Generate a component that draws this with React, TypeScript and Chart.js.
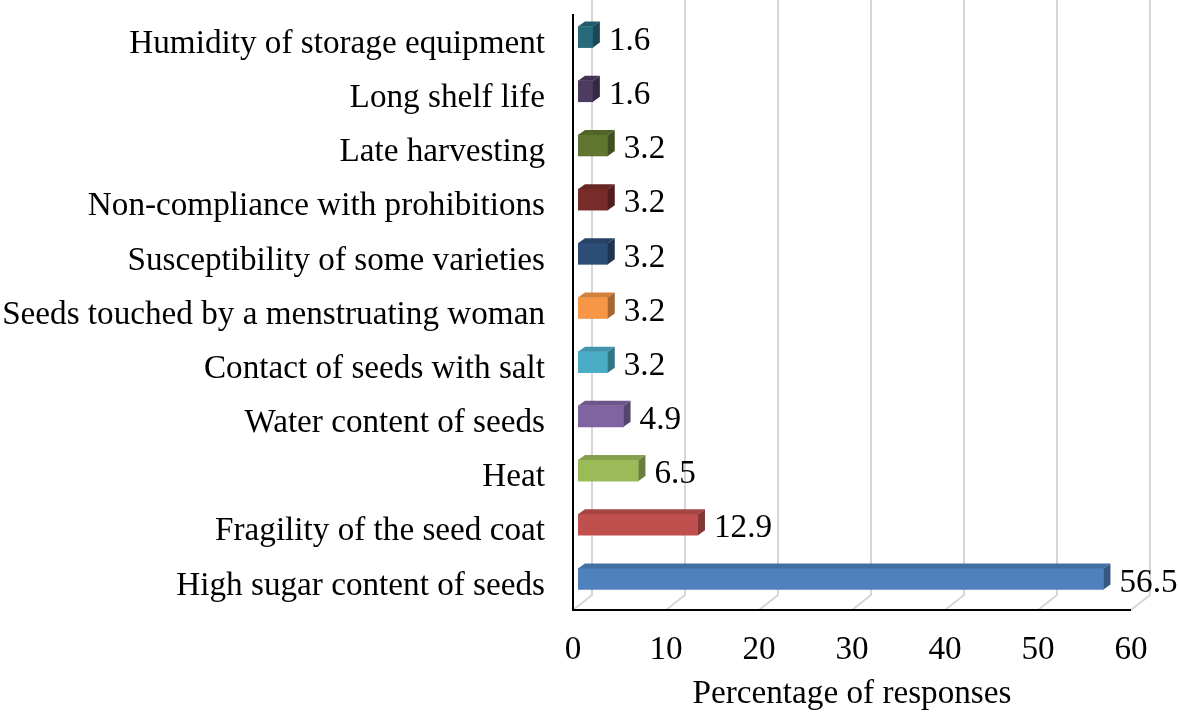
import React, { useEffect, useRef } from "react";
import { Chart, registerables } from "chart.js";

Chart.register(...registerables);

const categories: string[] = [
  "Humidity of storage equipment",
  "Long shelf life",
  "Late harvesting",
  "Non-compliance with prohibitions",
  "Susceptibility of some varieties",
  "Seeds touched by a menstruating woman",
  "Contact of seeds with salt",
  "Water content of seeds",
  "Heat",
  "Fragility of the seed coat",
  "High sugar content of seeds",
];

const values: number[] = [1.6, 1.6, 3.2, 3.2, 3.2, 3.2, 3.2, 4.9, 6.5, 12.9, 56.5];

const barColors: string[] = [
  "#276A7C",
  "#4D3B62",
  "#5F7530",
  "#772C2A",
  "#2C4D75",
  "#F79646",
  "#4BACC6",
  "#8064A2",
  "#9BBB59",
  "#C0504D",
  "#4F81BD",
];

const xTickValues: number[] = [0, 10, 20, 30, 40, 50, 60];
const axisTitle = "Percentage of responses";

const FONT_FAMILY = '"Liberation Serif", "Times New Roman", serif';
const FONT_SIZE = 33.2;

// 3D geometry (pixels)
const WALL_DX = 19;
const WALL_DY = -15;
const BAR_DX = 5;
const BAR_DY = -4;
const DEPTH_DX = 7;
const DEPTH_DY = -5;

function shade(hex: string, f: number): string {
  const n = parseInt(hex.slice(1), 16);
  const r = Math.round(((n >> 16) & 255) * f);
  const g = Math.round(((n >> 8) & 255) * f);
  const b = Math.round((n & 255) * f);
  return `rgb(${r},${g},${b})`;
}

const threeDPlugin = {
  id: "threeD",
  beforeDatasetsDraw(chart: any) {
    const { ctx, chartArea } = chart;
    const xs = chart.scales.x;
    ctx.save();
    ctx.strokeStyle = "#d6d6d6";
    ctx.lineWidth = 2;
    xTickValues.forEach((v) => {
      const px = xs.getPixelForValue(v);
      ctx.beginPath();
      ctx.moveTo(px, chartArea.bottom);
      ctx.lineTo(px + WALL_DX, chartArea.bottom + WALL_DY);
      ctx.lineTo(px + WALL_DX, chartArea.top + WALL_DY);
      ctx.stroke();
    });
    ctx.restore();
    ctx.save();
    ctx.translate(BAR_DX, BAR_DY);
  },
  afterDatasetsDraw(chart: any) {
    const { ctx, chartArea } = chart;
    const meta = chart.getDatasetMeta(0);
    meta.data.forEach((bar: any, i: number) => {
      const { x, y, base, height } = bar.getProps(["x", "y", "base", "height"], true);
      const top = y - height / 2;
      const bot = y + height / 2;
      const c = barColors[i];
      ctx.fillStyle = shade(c, 0.86);
      ctx.beginPath();
      ctx.moveTo(base, top);
      ctx.lineTo(x, top);
      ctx.lineTo(x + DEPTH_DX, top + DEPTH_DY);
      ctx.lineTo(base + DEPTH_DX, top + DEPTH_DY);
      ctx.closePath();
      ctx.fill();
      ctx.fillStyle = shade(c, 0.68);
      ctx.beginPath();
      ctx.moveTo(x, top);
      ctx.lineTo(x + DEPTH_DX, top + DEPTH_DY);
      ctx.lineTo(x + DEPTH_DX, bot + DEPTH_DY);
      ctx.lineTo(x, bot);
      ctx.closePath();
      ctx.fill();
    });
    ctx.restore();

    ctx.save();
    ctx.font = `${FONT_SIZE}px ${FONT_FAMILY}`;
    ctx.fillStyle = "#000";
    ctx.textAlign = "left";
    ctx.textBaseline = "middle";
    meta.data.forEach((bar: any, i: number) => {
      ctx.fillText(values[i].toFixed(1), bar.x + 21, bar.y);
    });
    ctx.strokeStyle = "#000";
    ctx.lineWidth = 2;
    ctx.beginPath();
    ctx.moveTo(chartArea.left, chartArea.top);
    ctx.lineTo(chartArea.left, chartArea.bottom);
    ctx.lineTo(chartArea.right, chartArea.bottom);
    ctx.stroke();
    ctx.restore();
  },
};

export default function App() {
  const ref = useRef<HTMLCanvasElement | null>(null);

  useEffect(() => {
    if (!ref.current) return;
    const chart = new Chart(ref.current, {
      type: "bar",
      data: {
        labels: categories,
        datasets: [
          {
            data: values,
            backgroundColor: barColors,
            borderWidth: 0,
            barThickness: 21,
          },
        ],
      },
      options: {
        indexAxis: "y",
        animation: false,
        responsive: false,
        devicePixelRatio: 1,
        layout: { padding: { top: 14, right: 47, left: 0, bottom: 0 } },
        plugins: {
          legend: { display: false },
          tooltip: { enabled: false },
        },
        scales: {
          x: {
            min: 0,
            max: 60,
            grid: { display: false, drawTicks: false },
            border: { display: false },
            ticks: {
              stepSize: 10,
              padding: 20,
              color: "#000",
              font: { family: FONT_FAMILY, size: FONT_SIZE },
              maxRotation: 0,
            },
            title: {
              display: true,
              text: axisTitle,
              color: "#000",
              font: { family: FONT_FAMILY, size: FONT_SIZE },
              padding: { top: 0, bottom: 0 },
            },
            afterFit: (s: any) => {
              s.height = 104;
              s.paddingLeft = 0;
              s.paddingRight = 0;
            },
          },
          y: {
            grid: { display: false, drawTicks: false },
            border: { display: false },
            ticks: {
              padding: 28,
              labelOffset: 3,
              color: "#000",
              font: { family: FONT_FAMILY, size: FONT_SIZE },
              autoSkip: false,
            },
            afterFit: (s: any) => {
              s.width = 573;
              s.paddingTop = 0;
              s.paddingBottom = 0;
            },
          },
        },
      },
      plugins: [threeDPlugin],
    });
    return () => chart.destroy();
  }, []);

  return (
    <div style={{ position: "fixed", left: 0, top: 0, width: 1178, height: 714, background: "#fff" }}>
      <canvas ref={ref} width={1178} height={714} style={{ display: "block" }} />
    </div>
  );
}
